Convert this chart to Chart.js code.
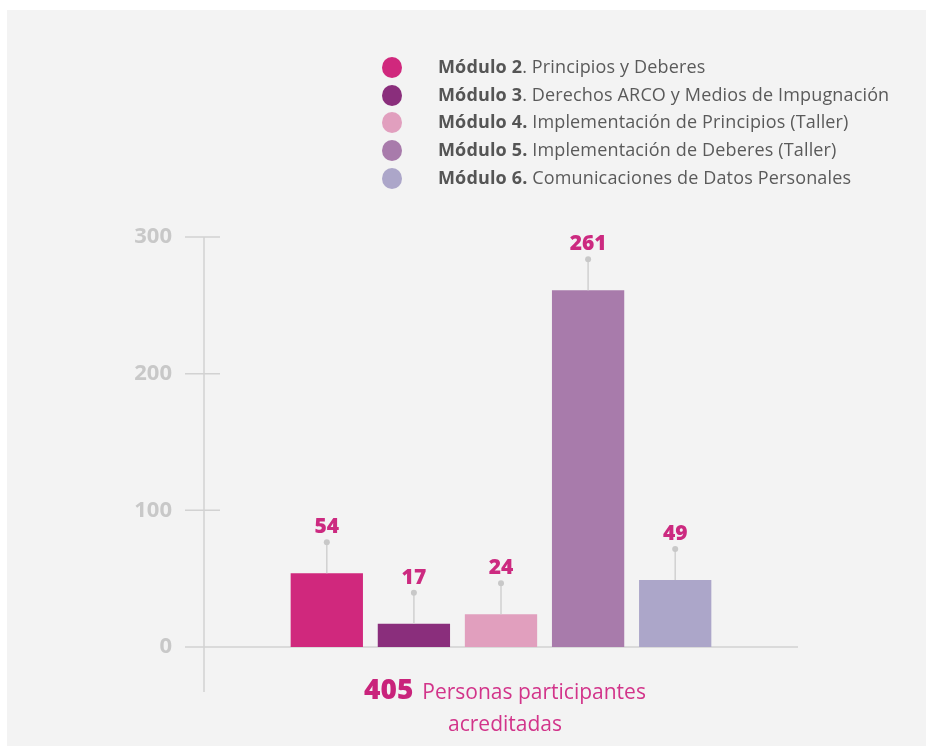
<!DOCTYPE html>
<html lang="es">
<head>
<meta charset="utf-8">
<title>Personas participantes acreditadas por módulo</title>
<script src="https://cdn.jsdelivr.net/npm/chart.js@4.4.1/dist/chart.umd.min.js"></script>
<style>
  html, body { margin: 0; padding: 0; background: #f3f3f3; }
  body { width: 926px; height: 746px; position: relative; overflow: hidden; font-family: "Open Sans", sans-serif; }
  .edge { position: absolute; background: #ffffff; }
  #edge-top { left: 0; top: 0; width: 926px; height: 10px; }
  #edge-left { left: 0; top: 0; width: 7px; height: 746px; }
  #chart-wrap { position: absolute; left: 0; top: 0; width: 926px; height: 746px; }
  #legend { position: absolute; left: 382px; top: 53px; list-style: none; margin: 0; padding: 0; }
  #legend li { height: 27.7px; line-height: 27.7px; font-size: 18px; letter-spacing: 0.15px; color: #5a5a5a; white-space: pre; }
  #legend .dot { display: inline-block; width: 20px; height: 21px; border-radius: 50%; margin-right: 36px; vertical-align: -5px; }
  #legend b { color: #555555; font-weight: 700; }
  #total { position: absolute; left: 300px; width: 410px; top: 672px; text-align: center; color: #d2348a; font-size: 21px; line-height: 32px; }
  #total b { font-size: 28px; font-weight: 800; color: #c9237b; margin-right: 9px; }
</style>
</head>
<body>
<div class="edge" id="edge-top"></div>
<div class="edge" id="edge-left"></div>
<div id="chart-wrap"><canvas id="modules-chart" width="926" height="746"></canvas></div>
<ul id="legend"></ul>
<div id="total"></div>
<script>
// Módulos y personas acreditadas en cada uno
const moduleNames = ['Módulo 2', 'Módulo 3', 'Módulo 4.', 'Módulo 5.', 'Módulo 6.'];
const moduleTitles = ['. Principios y Deberes', '. Derechos ARCO y Medios de Impugnación', ' Implementación de Principios (Taller)', ' Implementación de Deberes (Taller)', ' Comunicaciones de Datos Personales'];
const participants = [54, 17, 24, 261, 49];
const barColors = ['#d0287d', '#8a2e7c', '#e19fbe', '#a87bab', '#aca6c9'];
const yTicks = [0, 100, 200, 300];
const totalParticipants = 405;
const totalLabel = 'Personas participantes';
const totalLabel2 = 'acreditadas';

// Build the legend (bold module name + description)
function buildLegend() {
    const legend = document.getElementById('legend');
    moduleNames.forEach((name, i) => {
        const li = document.createElement('li');
        const dot = document.createElement('span');
        dot.className = 'dot';
        dot.style.background = barColors[i];
        const b = document.createElement('b');
        b.textContent = name;
        li.appendChild(dot);
        li.appendChild(b);
        li.appendChild(document.createTextNode(moduleTitles[i]));
        legend.appendChild(li);
    });
}

function buildTotal() {
    const total = document.getElementById('total');
    const b = document.createElement('b');
    b.textContent = totalParticipants;
    total.appendChild(b);
    total.appendChild(document.createTextNode(totalLabel));
    total.appendChild(document.createElement('br'));
    total.appendChild(document.createTextNode(totalLabel2));
}

// Axis line, crossing tick marks and the zero baseline
const axisLines = {
    id: 'axisLines',
    beforeDatasetsDraw(chart) {
        const { ctx, chartArea, scales } = chart;
        const y = scales.y;
        const left = chartArea.left;
        ctx.save();
        ctx.strokeStyle = '#d2d2d2';
        ctx.lineWidth = 1.5;
        ctx.beginPath();
        ctx.moveTo(left, y.getPixelForValue(yTicks[yTicks.length - 1]));
        ctx.lineTo(left, chartArea.bottom + 45);
        yTicks.forEach(t => {
            const py = y.getPixelForValue(t);
            ctx.moveTo(left - 19, py);
            ctx.lineTo(t === 0 ? chartArea.right : left + 16, py);
        });
        ctx.stroke();
        ctx.restore();
    }
};

// Value labels with a small stem above each bar
const valueStems = {
    id: 'valueStems',
    afterDatasetsDraw(chart) {
        const { ctx } = chart;
        const meta = chart.getDatasetMeta(0);
        ctx.save();
        meta.data.forEach((bar, i) => {
            const top = bar.y;
            const dotY = top - 31;
            ctx.strokeStyle = '#d0d0d0';
            ctx.lineWidth = 1.5;
            ctx.beginPath();
            ctx.moveTo(bar.x, top);
            ctx.lineTo(bar.x, dotY);
            ctx.stroke();
            ctx.fillStyle = '#c8c8c8';
            ctx.beginPath();
            ctx.arc(bar.x, dotY, 3, 0, Math.PI * 2);
            ctx.fill();
            ctx.fillStyle = '#cc2a80';
            ctx.font = '800 21px "Open Sans"';
            ctx.textAlign = 'center';
            ctx.textBaseline = 'middle';
            ctx.fillText(participants[i], bar.x, dotY - 15);
        });
        ctx.restore();
    }
};

function drawChart() {
    const ctx = document.getElementById('modules-chart').getContext('2d');
    new Chart(ctx, {
        type: 'bar',
        data: {
            datasets: [{
                data: participants.map((v, i) => ({ x: i + 1, y: v })),
                backgroundColor: barColors,
                borderWidth: 0,
                categoryPercentage: 1,
                barPercentage: 0.83
            }]
        },
        options: {
            responsive: false,
            animation: false,
            layout: { padding: { left: 104, right: 128, top: 237, bottom: 99 } },
            plugins: { legend: { display: false }, tooltip: { enabled: false } },
            scales: {
                x: { type: 'linear', min: -0.41, max: 6.41, offset: false, display: false },
                y: {
                    min: 0,
                    max: 300,
                    grid: { display: false, drawTicks: false },
                    border: { display: false },
                    afterFit: scale => { scale.width = 100; },
                    afterBuildTicks: scale => { scale.ticks = yTicks.map(v => ({ value: v })); },
                    ticks: {
                        padding: 32,
                        color: '#c8c8c8',
                        font: { family: '"Open Sans"', size: 22, weight: '700' }
                    }
                }
            }
        },
        plugins: [axisLines, valueStems]
    });
}

buildLegend();
buildTotal();
drawChart();
</script>
</body>
</html>
